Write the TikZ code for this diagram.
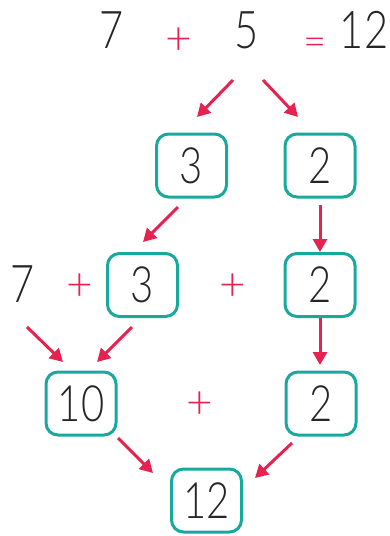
\documentclass[tikz,border=0pt]{standalone}
\usepackage{fontspec}
\setmainfont{Lato Light}[FakeStretch=0.8]
\newfontfamily\opfont{Lato Light}
\usetikzlibrary{arrows.meta}
\definecolor{tealbox}{RGB}{25,168,158}
\definecolor{crim}{RGB}{230,35,80}
\begin{document}
\begin{tikzpicture}[x=1pt,y=-1pt,
  numbox/.style={draw=tealbox, line width=3pt, rounded corners=12pt,
    minimum width=70pt, minimum height=63pt, inner sep=0pt,
    font=\fontsize{50}{50}\selectfont, text=black!85},
  num/.style={inner sep=0pt, font=\fontsize{52}{52}\selectfont, text=black!85},
  op/.style={inner sep=0pt, text=crim, font=\opfont\fontsize{46}{46}\selectfont},
  arr/.style={draw=crim, line width=3pt, -{Triangle[length=13pt,width=14pt]}}]
\useasboundingbox (0,0) rectangle (390,536);
% top row
\node[num] (t7) at (112,30) {7};
\node[op] (tplus) at (179,41) {+};
\node[num] (t5) at (247,30) {5};
\node[op, font=\opfont\fontsize{40}{40}\selectfont] (teq) at (315,47) {=};
\node[num] (t12) at (364,30) {12};
% row 2
\node[numbox] (b3a) at (191.5,165.5) {3};
\node[numbox] (b2a) at (320,165.5) {2};
% row 3
\node[num] (m7) at (23,284) {7};
\node[op] (mplus1) at (80,287) {+};
\node[numbox] (b3b) at (142.5,285) {3};
\node[op] (mplus2) at (233,287) {+};
\node[numbox] (b2b) at (320,285) {2};
% row 4
\node[numbox] (b10) at (81,403.5) {10};
\node[op] (lplus) at (200,405) {+};
\node[numbox] (b2c) at (321,403.5) {2};
% row 5
\node[numbox] (b12) at (206.5,500.5) {12};
% arrow end points
\coordinate (a1s) at (233,80);  \coordinate (a1e) at (197,117);
\coordinate (a2s) at (263,80);  \coordinate (a2e) at (298,117);
\coordinate (a3s) at (178,207); \coordinate (a3e) at (143,242);
\coordinate (a4s) at (320,205); \coordinate (a4e) at (320,252);
\coordinate (a5s) at (27,327);  \coordinate (a5e) at (63,362);
\coordinate (a6s) at (132,327); \coordinate (a6e) at (97,362);
\coordinate (a7s) at (320,318); \coordinate (a7e) at (320,365);
\coordinate (a8s) at (118,438); \coordinate (a8e) at (153,473);
\coordinate (a9s) at (292,443); \coordinate (a9e) at (255,478);
\foreach \i in {1,...,9} {\draw[arr] (a\i s) -- (a\i e);}
\end{tikzpicture}
\end{document}
